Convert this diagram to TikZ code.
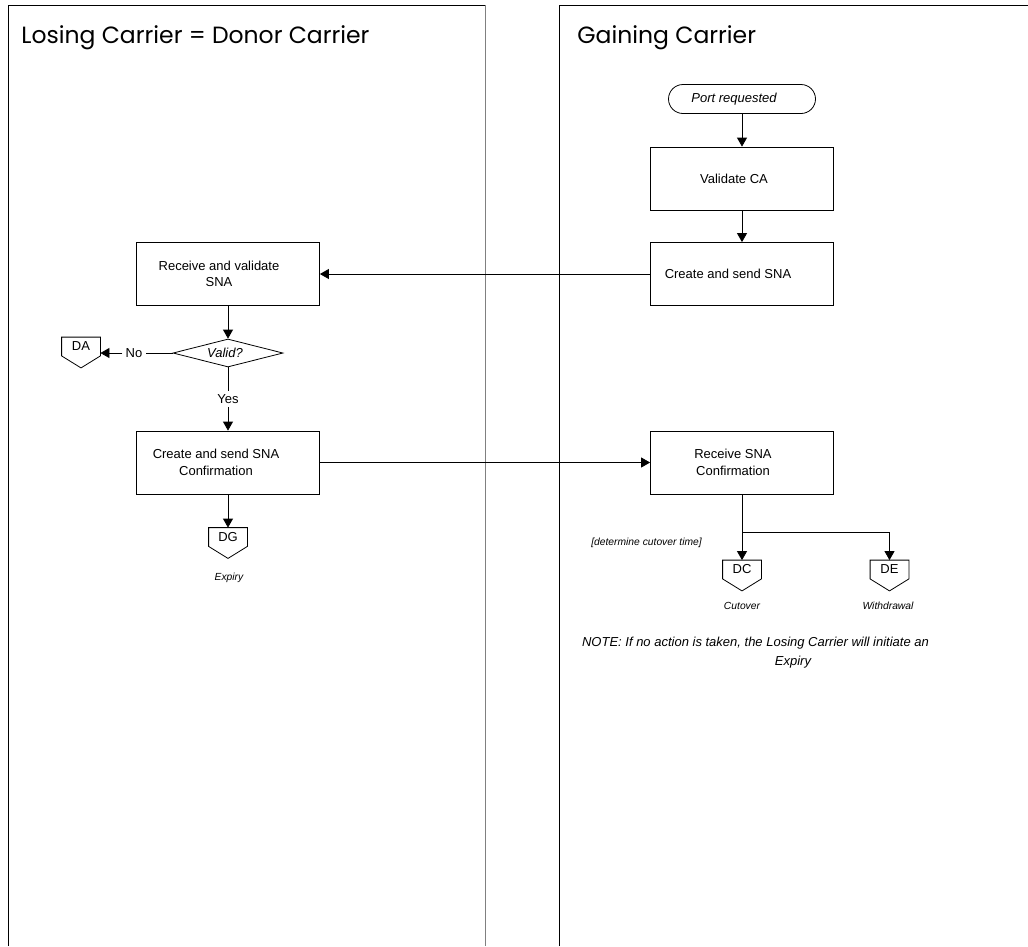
\documentclass[tikz,border=0pt]{standalone}
\usepackage{fontspec}
\setmainfont{Liberation Sans}
\newfontfamily\titlefont{Poppins}
\usetikzlibrary{shapes.geometric,shapes.misc,arrows.meta,calc}
\begin{document}
\begin{tikzpicture}[x=1pt,y=-1pt, line width=0.8pt,
  arr/.style={-{Triangle[length=9pt,width=10pt]}},
  box/.style={draw, rectangle, minimum width=183pt, minimum height=63pt, inner sep=0pt},
  txt/.style={font=\fontsize{13}{16.5}\selectfont, align=center, inner sep=0pt},
  small/.style={font=\fontsize{10.3}{12}\selectfont\itshape, inner sep=0pt},
  lbl/.style={font=\fontsize{13}{15}\selectfont, inner sep=3pt},
  title/.style={font=\titlefont\fontsize{23.5}{28}\selectfont, anchor=west, inner sep=0pt},
  offpage/.style={minimum width=38pt, minimum height=18pt, inner sep=0pt,
    font=\fontsize{13}{15}\selectfont,
    append after command={\pgfextra{\draw (\tikzlastnode.north west) -- (\tikzlastnode.north east) -- (\tikzlastnode.south east) -- ($(\tikzlastnode.south)+(0,12)$) -- (\tikzlastnode.south west) -- cycle;}}},
  lane/.style={line width=1pt}
]
\useasboundingbox (0,0) rectangle (1028,946);

% lanes
\draw[lane] (8,946) -- (8,5) -- (485,5);
\draw[lane, gray] (485,5) -- (485,946);
\draw[lane] (559,946) -- (559,5) -- (1028,5);
\node[title] (tl) at (21,38) {Losing Carrier = Donor Carrier};
\node[title] (tg) at (577,38) {Gaining Carrier};

% gaining carrier
\node[draw, rounded rectangle, minimum width=147pt, minimum height=29pt, inner sep=0pt,
  label={[txt, font=\fontsize{13}{15}\selectfont\itshape, xshift=-8pt]center:Port requested}] (port) at (742,99) {};
\node[box, label={[txt, xshift=-8pt]center:Validate CA}] (vca) at (742,178.5) {};
\node[box, label={[txt, xshift=-14pt]center:Create and send SNA}] (csna) at (742,274) {};
\node[box, label={[txt, xshift=-9pt]center:Receive SNA\\Confirmation}] (rsc) at (742,462.5) {};

% losing carrier
\node[box, label={[txt, xshift=-9pt]center:Receive and validate\\SNA}] (rvs) at (228,274) {};
\node[draw, diamond, aspect=4, minimum width=110pt, minimum height=28pt, inner sep=0pt,
  label={[txt, font=\fontsize{13}{15}\selectfont\itshape, xshift=-3pt]center:Valid?}] (valid) at (228,353) {};
\node[box, label={[txt, xshift=-12pt]center:Create and send SNA\\Confirmation}] (csc) at (228,462.5) {};

\node[offpage] (DA) at (81,346.5) {DA};
\node[offpage] (DG) at (228,537) {DG};
\node[offpage] (DC) at (742,569.5) {DC};
\node[offpage] (DE) at (889.5,569.5) {DE};

\node[lbl] (no) at (134,353) {No};
\node[lbl] (yes) at (228,399) {Yes};

\node[small] (exp) at (229,578) {Expiry};
\node[small] (cut) at (742,606) {Cutover};
\node[small] (wd) at (888,606) {Withdrawal};
\node[small] (det) at (646.5,543) {[determine cutover time]};
\node[font=\fontsize{13}{15}\selectfont\itshape, inner sep=0pt] (note1) at (755.5,643) {NOTE: If no action is taken, the Losing Carrier will initiate an};
\node[font=\fontsize{13}{15}\selectfont\itshape, inner sep=0pt] (note2) at (793,662) {Expiry};

% connectors
\draw[arr] (port) -- (vca);
\draw[arr] (vca) -- (csna);
\draw[arr] (csna.west) -- (rvs.east);
\draw[arr] (rvs) -- (valid);
\draw (valid.west) -- (no);
\draw[arr] (no) -- (no -| DA.east);
\draw (valid.south) -- (yes);
\draw[arr] (yes) -- (csc);
\draw[arr] (csc) -- (DG.north);
\draw[arr] (csc.east) -- (rsc.west);
\draw[arr] (rsc.south) -- (DC.north);
\coordinate (br) at ($(rsc.south)+(0,38)$);
\draw[arr] (br) -| (DE.north);
\end{tikzpicture}
\end{document}
